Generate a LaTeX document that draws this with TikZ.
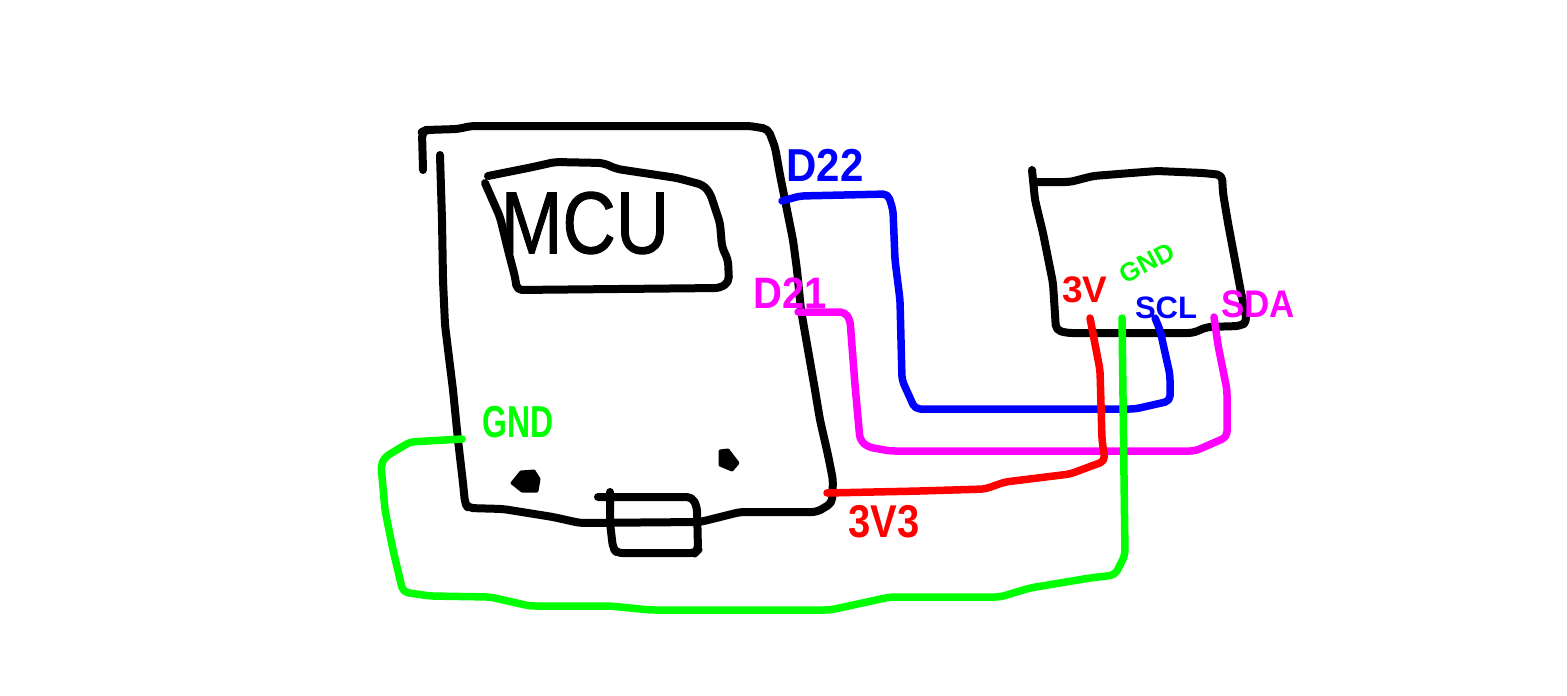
\documentclass[tikz,border=0pt]{standalone}
\usepackage{fontspec}
\setmainfont{Liberation Sans}
\newfontfamily\mcufont[FakeBold=1.2]{Liberation Sans}
\newcommand{\fsz}[1]{\fontsize{#1}{#1}\selectfont}
\tikzset{
  outline/.style={draw=black,line width=8pt,line cap=round,line join=round,rounded corners=5pt},
  wire/.style={line width=7.5pt,line cap=round,line join=round,rounded corners=5pt},
  blob/.style={fill=black,draw=black,line width=3pt,line join=round},
  lbl/.style={inner sep=0pt,font=\bfseries}
}
\definecolor{wblue}{RGB}{0,0,255}
\definecolor{wred}{RGB}{255,0,0}
\definecolor{wgreen}{RGB}{0,255,0}
\definecolor{wmag}{RGB}{255,0,255}
\begin{document}
\begin{tikzpicture}[x=1pt,y=-1pt]
\useasboundingbox (0,0) rectangle (1567,696);
% named ends of the wires
\coordinate (mcuD22) at (782,201);
\coordinate (mcuD21) at (798,312);
\coordinate (mcu33) at (827,493);
\coordinate (mcuGND) at (462,439);
\coordinate (sensSCL) at (1155,318);
\coordinate (sensSDA) at (1214,317);
\coordinate (sens3V) at (1090,318);
\coordinate (sensGND) at (1122,318);
% main board
\draw[outline] (423,170) -- (422,132) -- (426,130) -- (458,129) -- (471,126) -- (750,126) -- (768,129) -- (775,147) -- (780,175) -- (785,200) -- (793,240) -- (797,270) -- (801,310) -- (808,350) -- (815,390) -- (820,420) -- (828,455) -- (833,480) -- (832,503) -- (817,512) -- (740,512) -- (700,522) -- (580,523) -- (553,517) -- (503,509) -- (468,508) -- (465,503) -- (463,483) -- (458,440) -- (453,390) -- (445,325) -- (443,280) -- (442,220) -- (440,155);
% MCU box
\draw[outline] (488,176) -- (533,167) -- (555,162) -- (603,163) -- (617,169) -- (677,178) -- (703,185) -- (710,193) -- (720,223) -- (722,247) -- (728,260) -- (729,282) -- (720,288) -- (517,290) -- (515,277) -- (508,250) -- (500,217) -- (485,183);
% connector
\draw[outline] (598,497) -- (692,497) -- (697,507) -- (698,550) -- (695,553) -- (617,553) -- (613,548) -- (610,523) -- (610,492);
% holes
\draw[blob] (512,483) -- (521,472) -- (534,471) -- (539,479) -- (537,491) -- (522,491) -- cycle;
\draw[blob] (720,451) -- (728,450) -- (738,463) -- (732,470) -- (720,465) -- cycle;
% sensor board
\draw[outline] (1032,170) -- (1035,200) -- (1043,233) -- (1053,283) -- (1056,330) -- (1067,333) -- (1193,333) -- (1207,327) -- (1240,326) -- (1247,322) -- (1240,287) -- (1228,223) -- (1223,193) -- (1222,175) -- (1203,173) -- (1157,171) -- (1093,176) -- (1070,182) -- (1037,182);
% wires
\draw[wire,wblue] (mcuD22) -- (800,196) -- (888,194) -- (893,210) -- (895,260) -- (900,300) -- (902,380) -- (915,409) -- (1135,409) -- (1170,401) -- (1170,375) -- (1160,330) -- (sensSCL);
\draw[wire,wmag] (mcuD21) -- (845,312) -- (850,320) -- (855,385) -- (860,440) -- (868,447) -- (890,451) -- (1195,451) -- (1227,437) -- (1227,390) -- (1218,345) -- (sensSDA);
\draw[wire,wred] (mcu33) -- (920,491) -- (985,489) -- (1005,482) -- (1070,474) -- (1105,461) -- (1102,440) -- (1100,370) -- (sens3V);
\draw[wire,wgreen] (mcuGND) -- (410,442) -- (385,457) -- (381,465) -- (385,510) -- (393,550) -- (403,592) -- (430,596) -- (490,597) -- (530,606) -- (610,606) -- (650,610) -- (830,610) -- (890,597) -- (1000,597) -- (1030,588) -- (1090,578) -- (1115,575) -- (1125,555) -- (sensGND);
% labels
\node[inner sep=0pt,xscale=.84] (tMCU) at (585,223) {\mcufont\fsz{88}MCU};
\node[lbl,text=wblue,yscale=1.1] (tD22) at (825,165) {\fsz{42}D22};
\node[lbl,text=wmag,yscale=1.1] (tD21) at (790,293) {\fsz{40}D21};
\node[lbl,text=wgreen,yscale=1.4] (tGNDa) at (518,422) {\fsz{32}GND};
\node[lbl,text=wred,yscale=1.15] (t3V3) at (884,522) {\fsz{40}3V3};
\node[lbl,text=wred] (t3V) at (1085,290) {\fsz{37}3V};
\node[lbl,text=wgreen,rotate=28] (tGNDb) at (1147,263) {\fsz{26}GND};
\node[lbl,text=wblue] (tSCL) at (1166,308) {\fsz{31}SCL};
\node[lbl,text=wmag,yscale=1.1] (tSDA) at (1258,304) {\fsz{35}SDA};
\end{tikzpicture}
\end{document}
